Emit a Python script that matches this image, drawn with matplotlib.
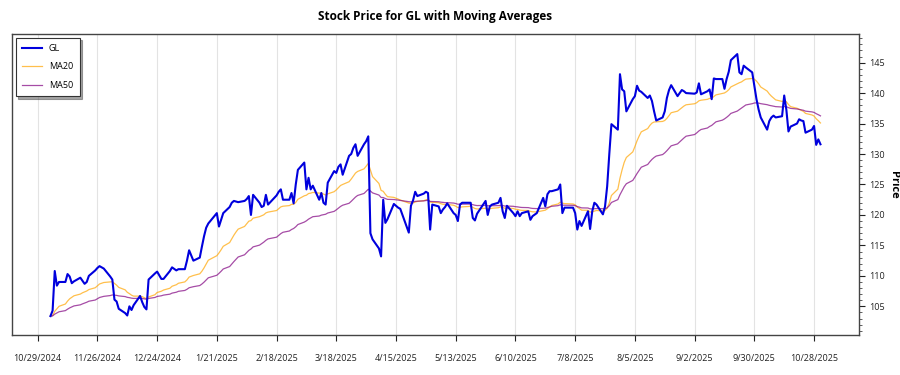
import numpy as np
import pandas as pd
import matplotlib
matplotlib.use("Agg")
import matplotlib.pyplot as plt
from matplotlib.ticker import MultipleLocator

plt.rcParams['font.family'] = ['Open Sans', 'DejaVu Sans']

# market holidays inside the window
holidays = ['2024-11-28', '2024-12-25', '2025-01-01', '2025-01-09', '2025-01-20',
            '2025-02-17', '2025-04-18', '2025-05-26', '2025-06-19', '2025-07-04',
            '2025-09-01']

# daily closes, month by month
gl_nov = [103.4, 104.3, 110.8, 108.4, 109.0, 109.0, 110.3, 109.9, 108.8, 109.1,
          109.7, 109.2, 108.7, 109.0, 110.0, 110.9, 111.3, 111.6, 111.2]
gl_dec = [109.9, 109.4, 106.1, 105.8, 104.6, 103.9, 103.5, 105.0, 104.4, 105.2,
          106.7, 105.7, 104.9, 104.5, 109.4, 110.4, 110.7, 109.5, 109.5, 110.8, 111.4]
gl_jan = [110.9, 111.1, 111.1, 112.5, 114.2, 112.5, 113.0, 114.8, 116.5, 117.9,
          118.6, 120.3, 118.1, 119.2, 120.3, 121.3, 122.0, 122.3, 122.2, 122.1]
gl_feb = [122.3, 122.6, 123.1, 120.0, 123.3, 122.0, 121.3, 121.5, 123.3, 121.7,
          123.2, 123.8, 124.2, 122.5, 122.5, 123.6, 121.9, 125.0, 127.4]
gl_mar = [128.6, 124.2, 126.1, 124.2, 124.8, 122.5, 123.6, 122.0, 121.7, 125.3,
          127.2, 126.9, 127.9, 128.3, 126.6, 129.7, 130.0, 131.0, 131.6, 129.7, 131.6]
gl_apr = [132.1, 132.9, 117.0, 116.0, 114.5, 113.2, 122.5, 118.7, 119.3, 121.8,
          121.5, 121.2, 121.0, 117.1, 121.5, 122.4, 123.8, 123.1, 123.5, 123.8, 123.6]
gl_may = [117.6, 121.7, 121.4, 120.3, 120.9, 121.3, 121.9, 120.3, 120.0, 119.0,
          121.7, 122.0, 122.0, 122.0, 119.5, 119.1, 120.2, 122.3, 120.0, 121.4, 121.7]
gl_jun = [122.0, 122.8, 120.6, 119.5, 121.5, 120.3, 119.8, 120.6, 119.8, 120.3,
          120.6, 119.2, 119.8, 120.3, 122.8, 121.4, 123.4, 123.9, 123.9, 124.2]
gl_jul = [125.0, 120.3, 121.2, 121.2, 120.3, 117.6, 119.0, 118.2, 120.6, 117.7,
          120.6, 122.0, 121.7, 120.1, 121.4, 124.7, 130.0, 134.9, 134.0, 143.1,
          140.6, 140.3]
gl_aug = [137.0, 139.0, 139.5, 141.2, 140.4, 140.2, 139.2, 139.6, 138.7, 137.0,
          135.5, 136.0, 137.0, 139.2, 140.5, 141.3, 139.5, 140.0, 140.5, 140.3, 140.0]
gl_sep = [139.9, 140.1, 141.6, 139.8, 140.3, 140.6, 139.0, 142.4, 142.3, 142.3,
          140.7, 142.3, 143.5, 145.4, 146.4, 143.4, 143.1, 144.5, 144.2, 143.4, 141.2]
gl_oct = [139.0, 137.3, 136.0, 134.0, 135.4, 136.0, 136.3, 136.0, 136.2, 139.6,
          137.3, 133.7, 134.5, 135.0, 135.7, 135.5, 135.4, 133.5, 134.0, 134.6,
          131.5, 132.4, 131.6]

tick_labels = ['10/29/2024', '11/26/2024', '12/24/2024', '1/21/2025', '2/18/2025',
               '3/18/2025', '4/15/2025', '5/13/2025', '6/10/2025', '7/8/2025',
               '8/5/2025', '9/2/2025', '9/30/2025', '10/28/2025']

gl = (gl_nov + gl_dec + gl_jan + gl_feb + gl_mar + gl_apr + gl_may + gl_jun
      + gl_jul + gl_aug + gl_sep + gl_oct)

dates = pd.bdate_range('2024-11-04', '2025-10-31')
dates = dates[~dates.isin(pd.to_datetime(holidays))]

price = pd.Series(gl, index=dates)
ma20 = price.ewm(span=20, adjust=False).mean()
ma50 = price.ewm(span=50, adjust=False).mean()

fig = plt.figure(figsize=(9, 3.75), dpi=100)
ax = fig.add_axes([0.0133, 0.1067, 0.9411, 0.8027])

ax.plot(dates, price, color='#0000dd', lw=1.5, label='GL', zorder=3)
ax.plot(dates, ma20, color='orange', alpha=0.7, lw=0.9, label='MA20', zorder=2)
ax.plot(dates, ma50, color='purple', alpha=0.7, lw=0.9, label='MA50', zorder=2)

ax.set_ylim(100.3, 149.7)
ax.yaxis.tick_right()
ax.yaxis.set_label_position('right')
ax.yaxis.set_minor_locator(MultipleLocator(1))
ax.set_yticks(np.arange(105, 150, 5))
ax.set_ylabel('Price', rotation=270, fontsize=8, fontweight='bold',
              va='center', ha='center')
ax.yaxis.set_label_coords(1.041, 0.5)

tick_dates = pd.to_datetime(tick_labels, format='%m/%d/%Y')
ax.set_xticks(tick_dates)
ax.set_xticklabels(tick_labels)

ax.tick_params(axis='both', labelsize=6.5, colors='#222222', length=4, width=0.8)
ax.tick_params(axis='x', pad=10)
ax.tick_params(axis='y', pad=3)
ax.tick_params(axis='y', which='minor', length=2, width=0.6, colors='#444444')
ax.grid(axis='x', color='#e3e3e3', lw=0.8)
ax.set_axisbelow(True)
for sp in ax.spines.values():
    sp.set_color('#444444')
    sp.set_linewidth(1.0)

ax.set_title('Stock Price for GL with Moving Averages', fontsize=8.5,
             fontweight='bold', pad=10)

leg = ax.legend(loc='upper left', fontsize=6.5, fancybox=False, shadow=True,
                edgecolor='#333333', framealpha=1, borderaxespad=0.4,
                handlelength=2.2, labelspacing=1.05, borderpad=0.7)
leg.get_frame().set_linewidth(0.8)

fig.savefig('out.png', dpi=100)
